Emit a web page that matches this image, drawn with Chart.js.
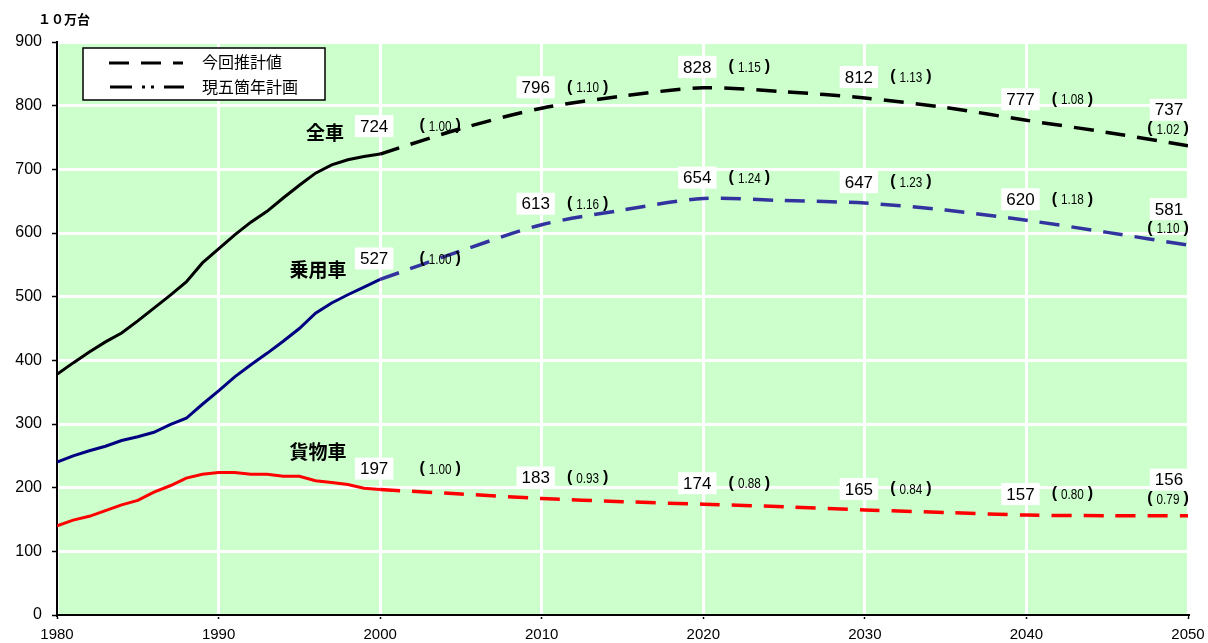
<!DOCTYPE html>
<html>
<head>
<meta charset="utf-8">
<script src="https://cdn.jsdelivr.net/npm/chart.js@4.4.1/dist/chart.umd.min.js"></script>
<style>
  html, body { margin: 0; padding: 0; background: #fff; }
  #wrap { position: relative; width: 1208px; height: 643px; }
</style>
</head>
<body>
<div id="wrap"><canvas id="c" width="1208" height="643"></canvas></div>
<script>
// actual values 1980-2000 (10万台)
const histYears = [1980,1981,1982,1983,1984,1985,1986,1987,1988,1989,1990,1991,1992,1993,1994,1995,1996,1997,1998,1999,2000];
const histTotal = [378,396,413,429,443,462,482,502,523,553,575,597,617,634,655,675,694,707,715,720,724];
const histPassenger = [240,250,258,265,274,280,287,299,309,331,352,374,393,411,430,450,474,490,503,515,527];
const histFreight = [140,149,155,164,173,180,193,203,215,221,224,224,221,221,218,218,211,208,205,199,197];

// projection 2000-2050
const projYears = [2000,2005,2010,2015,2020,2025,2030,2035,2040,2045,2050];
const projTotal = [724,764,796,815,828,822,812,797,777,758,737];
const projPassenger = [527,572,613,636,654,651,647,636,620,601,581];
const projFreight = [197,190,183,178,174,170,165,161,157,156,156];

// labelled points
const labelYears = [2000,2010,2020,2030,2040,2050];
const totalLabels = [724,796,828,812,777,737];
const totalRatios = ['1.00','1.10','1.15','1.13','1.08','1.02'];
const passengerLabels = [527,613,654,647,620,581];
const passengerRatios = ['1.00','1.16','1.24','1.23','1.18','1.10'];
const freightLabels = [197,183,174,165,157,156];
const freightRatios = ['1.00','0.93','0.88','0.84','0.80','0.79'];

const xTicks = [1980,1990,2000,2010,2020,2030,2040,2050];
const yTicks = [0,100,200,300,400,500,600,700,800,900];

const pts = (xs, ys) => xs.map((x, i) => ({ x: x, y: ys[i] }));
const NUM_FONT = '"Liberation Sans", Arial, sans-serif';
const JP_FONT = '"Noto Sans CJK JP", sans-serif';

const bgPlugin = {
  id: 'bg',
  beforeDraw(c) {
    const { ctx, chartArea: a } = c;
    ctx.save();
    ctx.fillStyle = '#CCFFCC';
    ctx.fillRect(a.left, a.top, a.right - a.left, a.bottom - a.top);
    ctx.restore();
  }
};

// ratio text: big bracket, smaller narrow number
function drawRatio(ctx, text, cx, cy) {
  const sx = 0.78;
  ctx.save();
  ctx.textBaseline = 'middle';
  ctx.font = 'bold 16px ' + NUM_FONT;
  const bw = ctx.measureText('(').width;
  ctx.font = '15px ' + NUM_FONT;
  const nw = ctx.measureText(text).width * sx;
  const gap = 4;
  const total = bw * 2 + nw + gap * 2;
  let x = cx - total / 2;
  ctx.textAlign = 'left';
  ctx.font = 'bold 16px ' + NUM_FONT;
  ctx.fillText('(', x, cy);
  x += bw + gap;
  ctx.save();
  ctx.translate(x, cy);
  ctx.scale(sx, 1);
  ctx.font = '15px ' + NUM_FONT;
  ctx.fillText(text, 0, 1);
  ctx.restore();
  x += nw + gap;
  ctx.font = 'bold 16px ' + NUM_FONT;
  ctx.fillText(')', x, cy);
  ctx.restore();
}

const labelPlugin = {
  id: 'labels',
  afterDatasetsDraw(c) {
    const ctx = c.ctx;
    const xs = c.scales.x, ys = c.scales.y;
    const groups = [
      [totalLabels, totalRatios],
      [passengerLabels, passengerRatios],
      [freightLabels, freightRatios],
    ];
    ctx.save();
    ctx.textBaseline = 'middle';
    ctx.textAlign = 'center';
    groups.forEach(([vals, ratios], g) => {
      vals.forEach((v, i) => {
        const px = xs.getPixelForValue(labelYears[i]);
        const py = ys.getPixelForValue(v);
        const last = i === vals.length - 1;
        const nx = last ? px - 19 : px - 6;
        const ny = last ? py - 36 : py - ((g === 0 && i === 0) ? 28 : 21);
        ctx.font = '17px ' + NUM_FONT;
        const w = ctx.measureText(String(v)).width + 10;
        ctx.fillStyle = '#fff';
        ctx.fillRect(nx - w / 2, ny - 11, w, 22);
        ctx.fillStyle = '#000';
        ctx.textAlign = 'center';
        ctx.fillText(String(v), nx, ny + 1);
        if (last) drawRatio(ctx, ratios[i], nx - 1, ny + 19);
        else drawRatio(ctx, ratios[i], px + (i === 0 ? 60 : 46), ny);
      });
    });

    // series names
    ctx.textAlign = 'center';
    ctx.font = 'bold 19px ' + JP_FONT;
    ctx.fillStyle = '#000';
    ctx.fillText('全車', 325, 133);
    ctx.fillText('乗用車', 318, 270);
    ctx.fillText('貨物車', 318, 452);

    // unit
    ctx.font = 'bold 13px ' + JP_FONT;
    ctx.textAlign = 'left';
    ctx.fillText('１０万台', 38, 19);

    // legend
    ctx.fillStyle = '#fff';
    ctx.fillRect(83, 48, 242, 52);
    ctx.strokeStyle = '#000';
    ctx.lineWidth = 1.5;
    ctx.strokeRect(83, 48, 242, 52);
    ctx.lineWidth = 3;
    ctx.beginPath();
    ctx.setLineDash([20, 12]);
    ctx.moveTo(109, 63); ctx.lineTo(183, 63);
    ctx.stroke();
    ctx.beginPath();
    ctx.setLineDash([22, 10, 3, 6, 3, 10]);
    ctx.moveTo(110, 87); ctx.lineTo(184, 87);
    ctx.stroke();
    ctx.setLineDash([]);
    ctx.fillStyle = '#000';
    ctx.font = '16px ' + JP_FONT;
    ctx.textBaseline = 'middle';
    ctx.fillText('今回推計値', 202, 62);
    ctx.fillText('現五箇年計画', 202, 87);
    ctx.restore();
  }
};

const solid = (label, data, color) => ({
  label, data, borderColor: color, borderWidth: 3, pointRadius: 0, tension: 0, fill: false,
});
const dashed = (label, data, color) => ({
  label, data, borderColor: color, borderWidth: 3.5, pointRadius: 0, tension: 0.3, fill: false,
  borderDash: [20, 12], borderCapStyle: 'butt',
});

new Chart(document.getElementById('c'), {
  type: 'line',
  data: {
    datasets: [
      solid('全車', pts(histYears, histTotal), '#000000'),
      solid('乗用車', pts(histYears, histPassenger), '#000080'),
      solid('貨物車', pts(histYears, histFreight), '#FF0000'),
      dashed('全車 推計', pts(projYears, projTotal), '#000000'),
      dashed('乗用車 推計', pts(projYears, projPassenger), '#3333A0'),
      dashed('貨物車 推計', pts(projYears, projFreight), '#FF0000'),
    ]
  },
  options: {
    responsive: false,
    animation: false,
    layout: { padding: { top: 42, right: 20, left: 0, bottom: 0 } },
    plugins: {
      legend: { display: false },
      tooltip: { enabled: false },
    },
    scales: {
      x: {
        type: 'linear',
        min: 1980, max: 2050,
        afterBuildTicks(s) { s.ticks = xTicks.map(v => ({ value: v })); },
        afterFit(s) { s.height = 28; s.paddingRight = 0; s.paddingLeft = 0; },
        grid: { color: '#fff', lineWidth: 3, tickColor: '#000', tickLength: 4, tickWidth: 1.5 },
        border: { color: '#000', width: 2 },
        ticks: { color: '#000', font: { family: NUM_FONT, size: 15 }, padding: 7, maxRotation: 0, callback: v => String(v) },
      },
      y: {
        min: 0, max: 900,
        afterBuildTicks(s) { s.ticks = yTicks.map(v => ({ value: v })); },
        afterFit(s) { s.width = 57; },
        grid: { color: '#fff', lineWidth: 3, tickColor: '#000', tickLength: 5, tickWidth: 1.5 },
        border: { color: '#000', width: 2 },
        ticks: { color: '#000', font: { family: NUM_FONT, size: 16 }, padding: 10 },
      },
    },
  },
  plugins: [bgPlugin, labelPlugin],
});
</script>
</body>
</html>
